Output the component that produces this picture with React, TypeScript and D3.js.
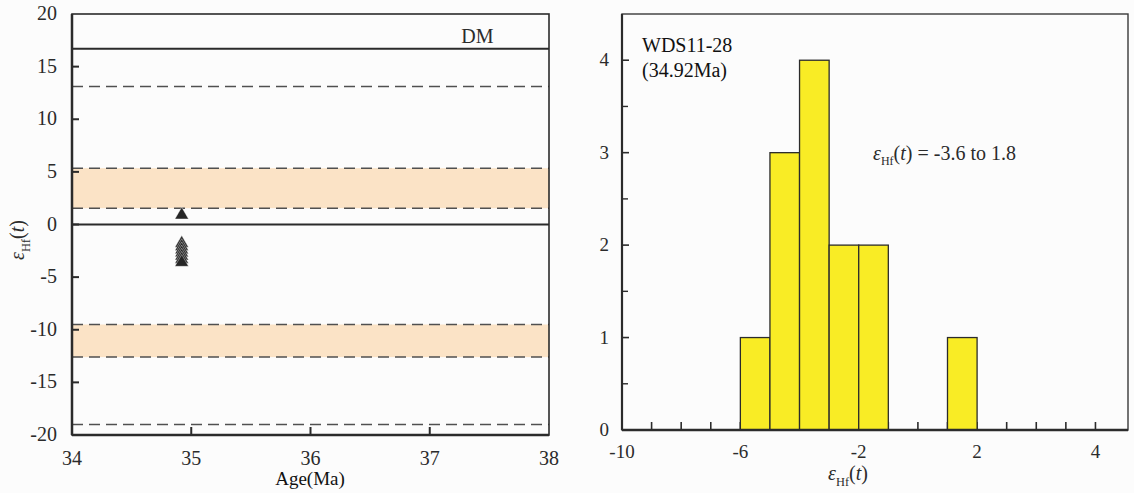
import React from "react";
import * as d3 from "d3";

// left panel: εHf(t) vs age
const ageTicks = [34, 35, 36, 37, 38];
const ehfTicks = [20, 15, 10, 5, 0, -5, -10, -15, -20];
const solidLines = [16.7, 0];
const dashedLines = [13.1, 5.35, 1.55, -9.5, -12.6, -19.0];
const bands: [number, number][] = [
  [1.55, 5.35],
  [-12.6, -9.5],
];
const sampleAge = 34.92;
const sampleEhf = [0.9, -1.8, -2.1, -2.4, -2.7, -3.0, -3.3, -3.6];

// right panel: histogram
const binStarts = [-6, -5, -4, -3, -2, 1];
const binCounts = [1, 3, 4, 2, 2, 1];
const histMinorTicks = d3.range(-9, 7);
const histTickValues = [-10, -6, -2, 2, 6];
const histTickLabels = ["-10", "-6", "-2", "2", "4"];
const countTicks = [0, 1, 2, 3, 4];
const countMinor = [0.5, 1.5, 2.5, 3.5];

const FONT = "'Liberation Serif', 'Times New Roman', serif";
const INK = "#2b2b2b";
const TXT = { fontFamily: FONT };

function EhfLabel({ x, y, rotate = 0, anchor = "middle", size = 18 }: any) {
  return (
    <text
      x={x}
      y={y}
      transform={rotate ? `rotate(${rotate},${x},${y})` : undefined}
      textAnchor={anchor}
      style={TXT}
      fontSize={size}
      fill={INK}
    >
      <tspan fontStyle="italic">ε</tspan>
      <tspan fontSize={size * 0.62} dy={size * 0.3}>
        Hf
      </tspan>
      <tspan dy={-size * 0.3}>(</tspan>
      <tspan fontStyle="italic">t</tspan>
      <tspan>)</tspan>
    </text>
  );
}

export default function App() {
  // left scales
  const x = d3.scaleLinear().domain([34, 38]).range([72, 549]);
  const y = d3.scaleLinear().domain([-20, 20]).range([435, 14]);

  // right scales
  const hx = d3.scaleLinear().domain([-10, 7.1]).range([622, 1128]);
  const hy = d3.scaleLinear().domain([0, 4.5]).range([430, 14]);

  const tri = d3.symbol().type(d3.symbolTriangle).size(80)();

  return (
    <svg
      width={1134}
      height={493}
      style={{ position: "absolute", left: 0, top: 0, background: "#fcfcfc" }}
    >
      {/* ---------- left panel ---------- */}
      {bands.map(([lo, hi], i) => (
        <rect
          key={"b" + i}
          x={x(34)}
          y={y(hi)}
          width={x(38) - x(34)}
          height={y(lo) - y(hi)}
          fill="#fbe3c6"
        />
      ))}
      {dashedLines.map((v, i) => (
        <line
          key={"d" + i}
          x1={x(34)}
          x2={x(38)}
          y1={y(v)}
          y2={y(v)}
          stroke="#505050"
          strokeWidth={1.5}
          strokeDasharray="11,6"
        />
      ))}
      {solidLines.map((v, i) => (
        <line
          key={"s" + i}
          x1={x(34)}
          x2={x(38)}
          y1={y(v)}
          y2={y(v)}
          stroke={INK}
          strokeWidth={2}
        />
      ))}
      <text x={x(37.4)} y={y(16.7) - 6} style={TXT} fontSize={20} textAnchor="middle" fill={INK}>
        DM
      </text>
      {/* ticks inside */}
      {ehfTicks
        .filter((t) => t !== 20 && t !== -20)
        .map((t) => (
          <line key={"yt" + t} x1={x(34)} x2={x(34) + 7} y1={y(t)} y2={y(t)} stroke={INK} strokeWidth={2} />
        ))}
      {ageTicks.slice(1, -1).map((t) => (
        <line key={"xt" + t} x1={x(t)} x2={x(t)} y1={y(-20)} y2={y(-20) - 8} stroke={INK} strokeWidth={2} />
      ))}
      {/* frame */}
      <rect
        x={x(34)}
        y={y(20)}
        width={x(38) - x(34)}
        height={y(-20) - y(20)}
        fill="none"
        stroke={INK}
        strokeWidth={1.6}
      />
      <line x1={x(34)} x2={x(34)} y1={y(20)} y2={y(-20)} stroke={INK} strokeWidth={2.5} />
      <line x1={x(34)} x2={x(38)} y1={y(-20)} y2={y(-20)} stroke={INK} strokeWidth={2.5} />
      {/* samples */}
      {sampleEhf.map((v, i) => (
        <path
          key={"p" + i}
          d={tri as string}
          transform={`translate(${x(sampleAge)},${y(v)})`}
          fill="#262626"
          stroke="#fcfcfc"
          strokeWidth={0.4}
        />
      ))}
      {/* tick labels */}
      {ehfTicks.map((t) => (
        <text key={"yl" + t} x={57} y={y(t) + 6} textAnchor="end" style={TXT} fontSize={20} fill={INK}>
          {t}
        </text>
      ))}
      {ageTicks.map((t) => (
        <text key={"xl" + t} x={x(t)} y={465} textAnchor="middle" style={TXT} fontSize={20} fill={INK}>
          {t}
        </text>
      ))}
      <text x={310} y={485} textAnchor="middle" style={TXT} fontSize={19} fill="#111">
        Age(Ma)
      </text>
      <EhfLabel x={24} y={240} rotate={-90} size={20} />

      {/* ---------- right panel ---------- */}
      {histMinorTicks.map((t) => (
        <line key={"hx" + t} x1={hx(t)} x2={hx(t)} y1={hy(0)} y2={hy(0) - 8} stroke={INK} strokeWidth={1.6} />
      ))}
      {countMinor.map((t) => (
        <line key={"hym" + t} x1={hx(-10)} x2={hx(-10) + 6} y1={hy(t)} y2={hy(t)} stroke={INK} strokeWidth={1.4} />
      ))}
      {countTicks.map((t) => (
        <line key={"hy" + t} x1={hx(-10)} x2={hx(-10) + 7} y1={hy(t)} y2={hy(t)} stroke={INK} strokeWidth={1.6} />
      ))}
      {binStarts.map((b, i) => (
        <rect
          key={"bar" + i}
          x={hx(b)}
          y={hy(binCounts[i])}
          width={hx(b + 1) - hx(b)}
          height={hy(0) - hy(binCounts[i])}
          fill="#f9ec25"
          stroke={INK}
          strokeWidth={1.3}
        />
      ))}
      <rect
        x={hx(-10)}
        y={hy(4.5)}
        width={hx(7.1) - hx(-10)}
        height={hy(0) - hy(4.5)}
        fill="none"
        stroke="#3a3a3a"
        strokeWidth={1.4}
      />
      <line x1={hx(-10)} x2={hx(-10)} y1={hy(4.5)} y2={hy(0)} stroke={INK} strokeWidth={2.2} />
      <line x1={hx(-10)} x2={hx(7.1)} y1={hy(0)} y2={hy(0)} stroke={INK} strokeWidth={2.4} />
      {countTicks.map((t) => (
        <text key={"hyl" + t} x={609} y={hy(t) + 6} textAnchor="end" style={TXT} fontSize={19} fill={INK}>
          {t}
        </text>
      ))}
      {histTickValues.map((t, i) => (
        <text key={"hxl" + t} x={hx(t)} y={458} textAnchor="middle" style={TXT} fontSize={19} fill={INK}>
          {histTickLabels[i]}
        </text>
      ))}
      <EhfLabel x={848} y={480} size={20} />
      <text x={642} y={52} style={TXT} fontSize={20} fill="#111">
        WDS11-28
      </text>
      <text x={642} y={77} style={TXT} fontSize={20} fill="#111">
        (34.92Ma)
      </text>
      <text x={873} y={160} style={TXT} fontSize={20} fill={INK}>
        <tspan fontStyle="italic">ε</tspan>
        <tspan fontSize={12} dy={5}>
          Hf
        </tspan>
        <tspan dy={-5}>(</tspan>
        <tspan fontStyle="italic">t</tspan>
        <tspan>) = -3.6 to 1.8</tspan>
      </text>
    </svg>
  );
}
